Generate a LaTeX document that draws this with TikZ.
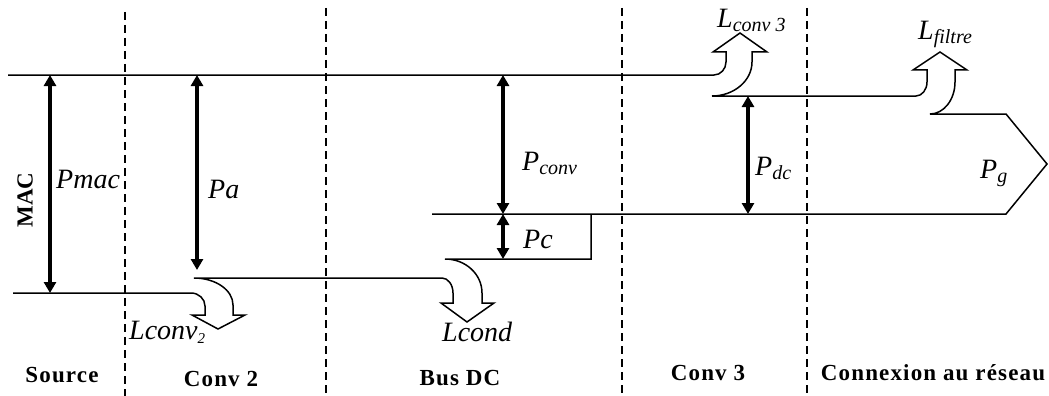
\documentclass[tikz,border=0pt]{standalone}
\usepackage{fontspec}
\setmainfont{Liberation Serif}
\newfontfamily\lblfont[LetterSpace=5]{Liberation Serif}
\usetikzlibrary{arrows.meta}
\newcommand{\lowsub}[1]{\raisebox{-4pt}{\fontsize{20}{20}\selectfont #1}}
\tikzset{
  flow/.style={line width=1.5pt, line join=miter},
  power/.style={{Triangle[length=11pt,width=12pt]}-{Triangle[length=11pt,width=12pt]}, line width=3.3pt},
  zone/.style={dash pattern=on 8pt off 5pt, line width=2.5pt},
  lbl/.style={font=\fontsize{28}{28}\selectfont\itshape, inner sep=0pt, anchor=base west},
  zlabel/.style={font=\fontsize{23}{23}\selectfont\lblfont\bfseries, inner sep=0pt, anchor=base},
}
\begin{document}
\begin{tikzpicture}[x=1pt,y=-1pt]
\useasboundingbox (0,0) rectangle (1049,396);
% zone separators
\draw[zone] (125,12) -- (125,396);
\draw[zone] (326,8) -- (326,396);
\draw[zone] (622,8) -- (622,396);
\draw[zone] (807,8) -- (807,396);
% upper flow outline with Lconv3, Lfiltre and Pg
\draw[flow] (8,75) -- (714,75) .. controls (720.6,75) and (726,69) .. (726,62) -- (726,52)
  -- (713,52) -- (740,33) -- (767,52) -- (752,52) -- (752,62)
  .. controls (752,80.7) and (734,96) .. (712,96) -- (916,96)
  .. controls (922,96) and (927,89.7) .. (927,82) -- (927,70)
  -- (913,70) -- (940,52) -- (967,70) -- (955,70) -- (955,82)
  .. controls (955,99.6) and (943.8,114) .. (930,114) -- (1006,114)
  -- (1047,164) -- (1006,214) -- (432,214);
% lower flow outline with Pc box, Lcond and Lconv2
\draw[flow] (591,214) -- (591,259) -- (445,259)
  .. controls (465.4,259) and (482,274) .. (482,293) -- (482,303)
  -- (494,303) -- (467,322) -- (441,303) -- (453,303) -- (453,293)
  .. controls (453,284.7) and (448,278) .. (442,278) -- (194,278)
  .. controls (215.5,278) and (233,290) .. (233,305) -- (233,315)
  -- (245,315) -- (218,329) -- (192,315) -- (205,315) -- (205,306)
  .. controls (205,298.8) and (198.7,293) .. (191,293) -- (13,293);
% power arrows
\coordinate (pmacT) at (50,75);   \coordinate (pmacB) at (50,293);
\coordinate (paT) at (197,75);    \coordinate (paB) at (197,270);
\coordinate (pconvT) at (503,75); \coordinate (pconvB) at (503,214);
\coordinate (pcT) at (503,214);   \coordinate (pcB) at (503,259);
\coordinate (pdcT) at (748,96);   \coordinate (pdcB) at (748,214);
\draw[power] (pmacT) -- (pmacB);
\draw[power] (paT) -- (paB);
\draw[power] (pconvT) -- (pconvB);
\draw[power] (pcT) -- (pcB);
\draw[power] (pdcT) -- (pdcB);
% labels
\node[font=\fontsize{23}{23}\selectfont\bfseries, rotate=90, inner sep=0pt] (mac) at (25,200) {MAC};
\node[lbl] (lpmac) at (56,188) {Pmac};
\node[lbl] (lpa) at (208,198) {Pa};
\node[lbl] (lpconv) at (522,170) {P\lowsub{conv}};
\node[lbl] (lpc) at (523,248) {Pc};
\node[lbl] (lpdc) at (755,175) {P\lowsub{dc}};
\node[lbl] (lpg) at (980,178) {P\lowsub{g}};
\node[lbl] (llconv2) at (129,339) {Lconv\raisebox{-4pt}{\fontsize{15}{15}\selectfont 2}};
\node[lbl] (llcond) at (442,341) {Lcond};
\node[lbl] (llconv3) at (717,28) {L\lowsub{conv 3}};
\node[lbl] (llfiltre) at (918,40) {L\lowsub{filtre}};
% zone names
\node[zlabel] (zsource) at (62,382) {Source};
\node[zlabel] (zconv2) at (221,386) {Conv 2};
\node[zlabel] (zbus) at (460,385) {Bus DC};
\node[zlabel] (zconv3) at (708,380) {Conv 3};
\node[zlabel] (zres) at (933,380) {Connexion au réseau};
\end{tikzpicture}
\end{document}
